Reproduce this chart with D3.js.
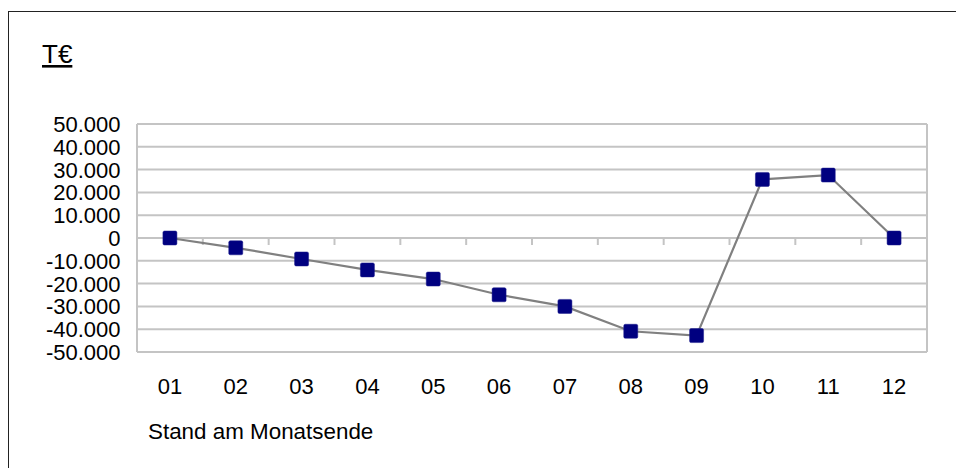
<!DOCTYPE html>
<html>
<head>
<meta charset="utf-8">
<script src="https://cdn.jsdelivr.net/npm/d3@7"></script>
<style>
  html, body { margin: 0; padding: 0; background: #fff; }
  svg { display: block; font-family: "Liberation Sans", Arial, sans-serif; }
</style>
</head>
<body>
<svg id="chart" width="956" height="468"></svg>
<script>
const categories = ["01","02","03","04","05","06","07","08","09","10","11","12"];
const values = [0, -4300, -9200, -14000, -18000, -24900, -30000, -40900, -42800, 25700, 27600, 0];
const yTicks = [50000, 40000, 30000, 20000, 10000, 0, -10000, -20000, -30000, -40000, -50000];
const unitLabel = "T€";
const xTitle = "Stand am Monatsende";

(function () {
const svg = d3.select("#chart");
const pLeft = 137, pRight = 927, pTop = 124, pBottom = 352;

const x = d3.scaleBand().domain(categories).range([pLeft, pRight]).padding(0);
const y = d3.scaleLinear().domain([-50000, 50000]).range([pBottom, pTop]);
const fmt = v => v === 0 ? "0" : d3.format(",")(v).replace(/,/g, ".").replace("−", "-");

// outer frame
svg.append("rect").attr("x", 8.5).attr("y", 11.5).attr("width", 1000).attr("height", 1000)
  .attr("fill", "none").attr("stroke", "#222").attr("stroke-width", 1);

// unit label
svg.append("text").attr("x", 42).attr("y", 63).attr("font-size", 26)
  .attr("text-decoration", "underline").attr("fill", "#000").text(unitLabel);

const gridColor = "#c4c4c4";
// gridlines
svg.append("g").selectAll("line").data(yTicks).join("line")
  .attr("x1", pLeft).attr("x2", pRight)
  .attr("y1", d => y(d)).attr("y2", d => y(d))
  .attr("stroke", gridColor).attr("stroke-width", 2);

// plot borders (left, right)
svg.append("line").attr("x1", pLeft).attr("x2", pLeft).attr("y1", pTop).attr("y2", pBottom)
  .attr("stroke", gridColor).attr("stroke-width", 2);
svg.append("line").attr("x1", pRight).attr("x2", pRight).attr("y1", pTop).attr("y2", pBottom)
  .attr("stroke", gridColor).attr("stroke-width", 2);

// category ticks on zero line
const bounds = categories.slice(1).map(c => x(c));
svg.append("g").selectAll("line").data(bounds).join("line")
  .attr("x1", d => d).attr("x2", d => d)
  .attr("y1", y(0)).attr("y2", y(0) + 7)
  .attr("stroke", gridColor).attr("stroke-width", 2);

// y labels
svg.append("g").selectAll("text").data(yTicks).join("text")
  .attr("x", 120.5).attr("y", d => y(d) + 8)
  .attr("text-anchor", "end").attr("font-size", 22).attr("fill", "#000")
  .text(fmt);

// x labels
svg.append("g").selectAll("text").data(categories).join("text")
  .attr("x", d => x(d) + x.bandwidth() / 2).attr("y", 394)
  .attr("text-anchor", "middle").attr("font-size", 22).attr("fill", "#000")
  .text(d => d);

// x title
svg.append("text").attr("x", 148).attr("y", 439).attr("font-size", 22.4)
  .attr("fill", "#000").text(xTitle);

// line
const pts = categories.map((c, i) => [x(c) + x.bandwidth() / 2, y(values[i])]);
svg.append("path").attr("d", d3.line()(pts))
  .attr("fill", "none").attr("stroke", "#808080").attr("stroke-width", 2.2);

// markers
const ms = 14;
svg.append("g").selectAll("rect").data(pts).join("rect")
  .attr("x", d => d[0] - ms / 2).attr("y", d => d[1] - ms / 2)
  .attr("width", ms).attr("height", ms).attr("rx", 1.5)
  .attr("fill", "#000080").attr("stroke", "#1a1a8a").attr("stroke-width", 0.5);
})();
</script>
</body>
</html>
